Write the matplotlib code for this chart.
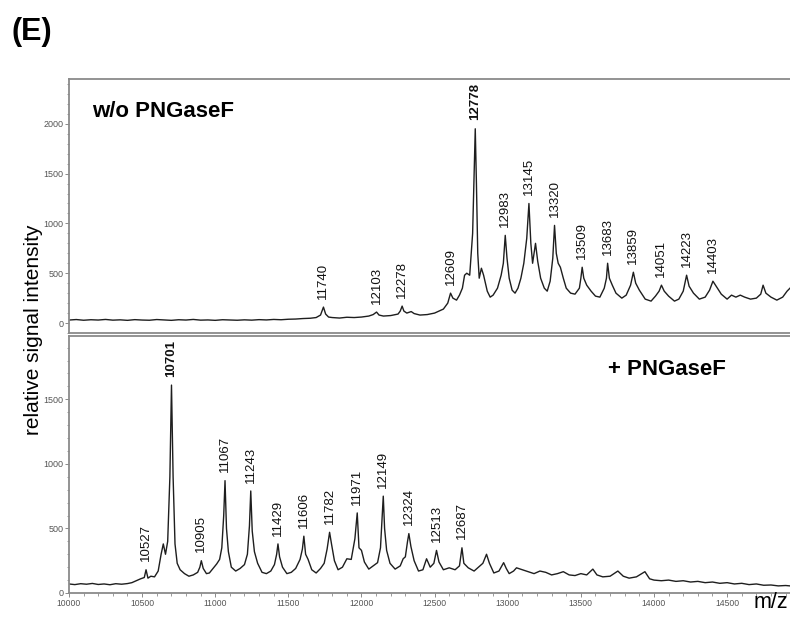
import matplotlib.pyplot as plt
import numpy as np
from matplotlib.ticker import MultipleLocator

plt.rcParams['font.family'] = ['Liberation Sans', 'DejaVu Sans']

# spectrum without PNGaseF (m/z, relative signal intensity)
mz_top = [10000, 10050, 10100, 10150, 10200, 10250, 10300, 10350, 10400, 10450,
          10500, 10550, 10600, 10650, 10700, 10750, 10800, 10850, 10900, 10950,
          11000, 11050, 11100, 11150, 11200, 11250, 11300, 11350, 11400, 11450,
          11500, 11550, 11600, 11650, 11690, 11720, 11740, 11755, 11775, 11800,
          11850, 11900, 11950, 12000, 12050, 12080, 12103, 12120, 12150, 12200,
          12250, 12265, 12278, 12290, 12310, 12340, 12360, 12400, 12450, 12500,
          12530, 12560, 12590, 12609, 12625, 12650, 12670, 12690, 12705, 12720,
          12740, 12760, 12770, 12778, 12786, 12795, 12805, 12820, 12835, 12860,
          12880, 12900, 12930, 12955, 12970, 12983, 12995, 13010, 13030, 13050,
          13070, 13090, 13110, 13130, 13145, 13158, 13170, 13190, 13205, 13225,
          13250, 13270, 13290, 13308, 13320, 13332, 13345, 13360, 13380, 13400,
          13430, 13460, 13490, 13500, 13509, 13520, 13540, 13570, 13600, 13630,
          13660, 13675, 13683, 13695, 13715, 13740, 13780, 13810, 13840, 13859,
          13875, 13900, 13940, 13980, 14010, 14035, 14051, 14070, 14100, 14140,
          14170, 14200, 14223, 14240, 14270, 14310, 14350, 14380, 14403, 14425,
          14460, 14500, 14530, 14560, 14590, 14620, 14660, 14700, 14730, 14746,
          14765, 14800, 14840, 14880, 14910, 14930]
int_top = [30, 35, 28, 33, 30, 36, 29, 32, 27, 34,
           30, 28, 35, 31, 27, 33, 30, 36, 29, 31,
           27, 33, 30, 28, 32, 29, 34, 31, 36, 33,
           38, 40, 45, 48, 55, 80, 160, 90, 60, 55,
           50, 58, 55, 60, 70, 85, 110, 80, 70, 75,
           90, 120, 170, 120, 100, 115, 95, 80, 85, 100,
           120, 140, 200, 300, 250, 230, 280, 350, 480, 500,
           480, 900, 1500, 1950, 1400, 700, 450, 550, 480, 320,
           260, 280, 350, 480, 600, 880, 650, 450, 330, 300,
           350, 450, 600, 850, 1200, 800, 600, 800, 620, 450,
           350, 320, 420, 650, 980, 700, 600, 560, 450, 350,
           300, 290, 350, 450, 560, 450, 380, 320, 270, 260,
           350, 450, 600, 450, 380, 300, 250, 280, 380, 510,
           400, 330, 240, 220, 270, 320, 380, 320, 270, 220,
           240, 320, 480, 370, 300, 240, 260, 330, 420, 370,
           290, 240, 280, 260, 280, 260, 240, 250, 290, 380,
           300, 260, 230, 260, 320, 350]

# spectrum with PNGaseF
mz_bot = [10000, 10040, 10080, 10120, 10160, 10200, 10240, 10280, 10320, 10360,
          10400, 10430, 10460, 10490, 10515, 10527, 10540, 10560, 10585, 10610,
          10630, 10645, 10660, 10675, 10690, 10701, 10712, 10725, 10740, 10760,
          10790, 10820, 10850, 10880, 10895, 10905, 10918, 10940, 10960, 10985,
          11010, 11030, 11045, 11058, 11067, 11077, 11090, 11110, 11140, 11170,
          11200, 11220, 11234, 11243, 11253, 11268, 11290, 11320, 11350, 11380,
          11405, 11420, 11429, 11440, 11460, 11490, 11520, 11550, 11580, 11596,
          11606, 11618, 11635, 11660, 11690, 11720, 11745, 11765, 11782, 11795,
          11815, 11840, 11870, 11900, 11930, 11955, 11971, 11983, 12000, 12020,
          12050, 12080, 12110, 12130, 12142, 12149, 12158, 12172, 12195, 12230,
          12265, 12285, 12300, 12315, 12324, 12338, 12360, 12390, 12420, 12445,
          12470, 12495, 12513, 12530, 12560, 12600, 12640, 12670, 12687, 12700,
          12730, 12770, 12800, 12830, 12855, 12875, 12905, 12940, 12972, 12990,
          13010, 13040, 13060, 13100, 13140, 13180, 13220, 13260, 13300, 13340,
          13380, 13420, 13460, 13500, 13540, 13582, 13610, 13650, 13700, 13753,
          13790, 13830, 13880, 13938, 13970, 14000, 14050, 14100, 14150, 14200,
          14250, 14300, 14350, 14400, 14450, 14500, 14550, 14600, 14650, 14700,
          14750, 14800, 14850, 14900, 14930]
int_bot = [70, 65, 72, 68, 74, 66, 70, 64, 72, 68,
           73, 80, 95, 110, 120, 180, 115, 130, 125, 170,
           300, 380, 300, 400, 900, 1610, 900, 380, 230, 180,
           150, 130, 140, 160, 200, 250, 190, 150, 155, 190,
           225, 260, 350, 600, 870, 500, 320, 200, 170, 190,
           220, 300, 520, 790, 480, 320, 230, 160, 150, 170,
           220, 300, 380, 280, 200, 150, 160, 190, 260, 340,
           440, 300, 260, 180, 155, 190, 230, 340, 470, 380,
           250, 180, 200, 265, 260, 420, 620, 350, 330, 240,
           185, 210, 235, 350, 600, 750, 500, 330, 230, 185,
           210, 265, 280, 400, 460, 360, 250, 170, 180, 265,
           200, 230, 330, 240, 180, 195, 180, 210, 350, 230,
           195, 170, 200, 230, 300, 230, 155, 170, 235, 190,
           150, 170, 195, 180, 165, 150, 170, 160, 140, 150,
           165, 140, 135, 150, 140, 185, 140, 125, 130, 170,
           130, 115, 125, 165, 110, 100, 95, 100, 90, 95,
           85, 90, 80, 85, 75, 80, 70, 75, 65, 70,
           60, 62, 55, 58, 55]

labels_top = [11740, 12103, 12278, 12609, 12778, 12983, 13145, 13320,
              13509, 13683, 13859, 14051, 14223, 14403]
labels_bot = [10527, 10701, 10905, 11067, 11243, 11429, 11606, 11782,
              11971, 12149, 12324, 12513, 12687]
bold_top = [12778]
bold_bot = [10701]

SPINE = '#8a8a8a'
TICKC = '#555555'
LINEC = '#1e1e1e'

fig = plt.figure(figsize=(7.9, 6.17), dpi=100)
ax1 = fig.add_axes([0.0873, 0.4595, 0.9127, 0.4125])
ax2 = fig.add_axes([0.0873, 0.0389, 0.9127, 0.4165])


def style(ax):
  for s in ['top', 'left', 'bottom']:
    ax.spines[s].set_color(SPINE)
    ax.spines[s].set_linewidth(1.3)
  ax.spines['right'].set_visible(False)
  ax.yaxis.set_major_locator(MultipleLocator(500))
  ax.yaxis.set_minor_locator(MultipleLocator(100))
  ax.tick_params(axis='y', which='major', length=3, width=0.7, color=SPINE,
                 labelsize=6.5, labelcolor=TICKC, pad=1)
  ax.tick_params(axis='y', which='minor', length=1.8, width=0.6, color=SPINE)
  ax.set_xlim(10000, 14930)


def annotate(ax, mz, inten, labels, bold):
  mz = np.array(mz)
  inten = np.array(inten)
  for lab in labels:
    h = inten[np.abs(mz - lab) <= 15].max()
    ax.annotate(str(lab), xy=(lab, h), xytext=(0, 6), textcoords='offset points',
                rotation=90, ha='center', va='bottom', fontsize=9.5,
                fontweight='bold' if lab in bold else 'normal', color='#111111')


style(ax1)
ax1.plot(mz_top, int_top, color=LINEC, linewidth=1.0)
ax1.set_ylim(-105, 2450)
ax1.set_xticks([])
annotate(ax1, mz_top, int_top, labels_top, bold_top)
ax1.text(0.032, 0.83, 'w/o PNGaseF', transform=ax1.transAxes, fontsize=16,
         fontweight='bold', va='bottom')

style(ax2)
ax2.plot(mz_bot, int_bot, color=LINEC, linewidth=1.0)
ax2.set_ylim(0, 1990)
ax2.xaxis.set_major_locator(MultipleLocator(500))
ax2.xaxis.set_minor_locator(MultipleLocator(100))
ax2.tick_params(axis='x', which='major', length=3, width=0.7, color=SPINE,
                labelsize=6.2, labelcolor=TICKC, pad=1)
ax2.tick_params(axis='x', which='minor', length=1.8, width=0.6, color=SPINE)
ax2.set_xticklabels([str(int(v)) if v < 14900 else '' for v in ax2.get_xticks()])
annotate(ax2, mz_bot, int_bot, labels_bot, bold_bot)
ax2.text(0.748, 0.83, '+ PNGaseF', transform=ax2.transAxes, fontsize=16,
         fontweight='bold', va='bottom')

fig.text(0.015, 0.948, '(E)', fontsize=22, fontweight='bold', va='center')
fig.text(0.043, 0.465, 'relative signal intensity', fontsize=15, rotation=90,
         ha='center', va='center')
fig.text(0.998, 0.007, 'm/z', fontsize=15.5, ha='right', va='bottom')

fig.savefig('out.png', dpi=100)
